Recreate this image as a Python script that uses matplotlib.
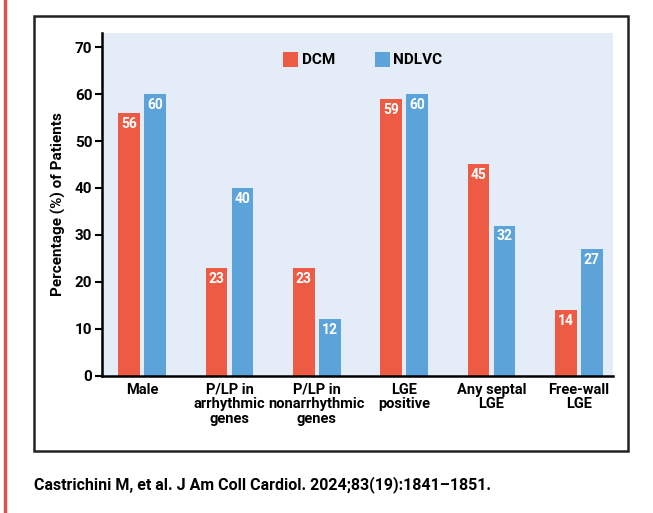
import matplotlib.pyplot as plt
import matplotlib.transforms as mtransforms
import numpy as np
from matplotlib.patches import Rectangle
from matplotlib.lines import Line2D

categories = ["Male", "P/LP in\narrhythmic\ngenes", "P/LP in\nnonarrhythmic\ngenes",
              "LGE\npositive", "Any septal\nLGE", "Free-wall\nLGE"]
dcm = [56, 23, 23, 59, 45, 14]
ndlvc = [60, 40, 12, 60, 32, 27]
series_names = ["DCM", "NDLVC"]
yticks = [0, 10, 20, 30, 40, 50, 60, 70]

RED = "#EE5B45"
BLUE = "#5BA3D9"
BG = "#E4ECF8"

plt.rcParams['font.family'] = ['Roboto', 'DejaVu Sans']

fig = plt.figure(figsize=(6.53, 5.13), dpi=100)
ax = fig.add_axes([0.1562, 0.2676, 0.7825, 0.668])
ax.set_facecolor(BG)

x = np.arange(len(categories))
w = 0.246
off = 0.149
b1 = ax.bar(x - off, dcm, w, color=RED, label=series_names[0])
b2 = ax.bar(x + off, ndlvc, w, color=BLUE, label=series_names[1])

for bars, vals in ((b1, dcm), (b2, ndlvc)):
    for r, v in zip(bars, vals):
        ax.text(r.get_x() + r.get_width() / 2, v - 0.8, str(v), ha='center', va='top',
                color='white', fontsize=10, fontweight='bold')

ax.set_xlim(-0.46, 5.39)
ax.set_ylim(0, 73)
ax.set_yticks(yticks)
ax.set_xticks(x)
ax.set_xticklabels(categories, fontsize=10.5, fontweight='bold', linespacing=1.05)
# the arrhythmic label sits a bit left of its bars in the original
lab = ax.get_xticklabels()[1]
lab.set_transform(lab.get_transform() + mtransforms.ScaledTranslation(-6 / 100, 0, fig.dpi_scale_trans))
ax.tick_params(axis='x', length=0, pad=5)
ax.tick_params(axis='y', length=5, width=1.5, labelsize=11, pad=2)
for t in ax.get_yticklabels():
    t.set_fontweight('bold')
ax.spines['top'].set_visible(False)
ax.spines['right'].set_visible(False)
ax.spines['left'].set_linewidth(1.8)
ax.spines['bottom'].set_linewidth(1.8)
ax.set_ylabel("Percentage (%) of Patients", fontsize=11, fontweight='bold', labelpad=6)

ax.legend(loc='upper center', bbox_to_anchor=(0.51, 0.985), ncol=2, frameon=False,
          handlelength=1.0, handleheight=1.1, handletextpad=0.2, columnspacing=2.6,
          prop={'weight': 'bold', 'size': 11})

# outer box and side rule
fig.patches.append(Rectangle((34 / 653, 1 - 451 / 513), (628 - 34) / 653, (451 - 16) / 513,
                             transform=fig.transFigure, fill=False, edgecolor='#222222',
                             linewidth=1.8))
fig.lines.append(Line2D([5 / 653, 5 / 653], [0, 1], transform=fig.transFigure,
                        color='#D9534F', linewidth=2.5))

fig.text(34 / 653, 1 - 485 / 513, "Castrichini M, et al. J Am Coll Cardiol. 2024;83(19):1841\u20131851.",
         fontsize=11.5, fontweight='bold', va='center', ha='left')

fig.savefig("out.png", dpi=100)
